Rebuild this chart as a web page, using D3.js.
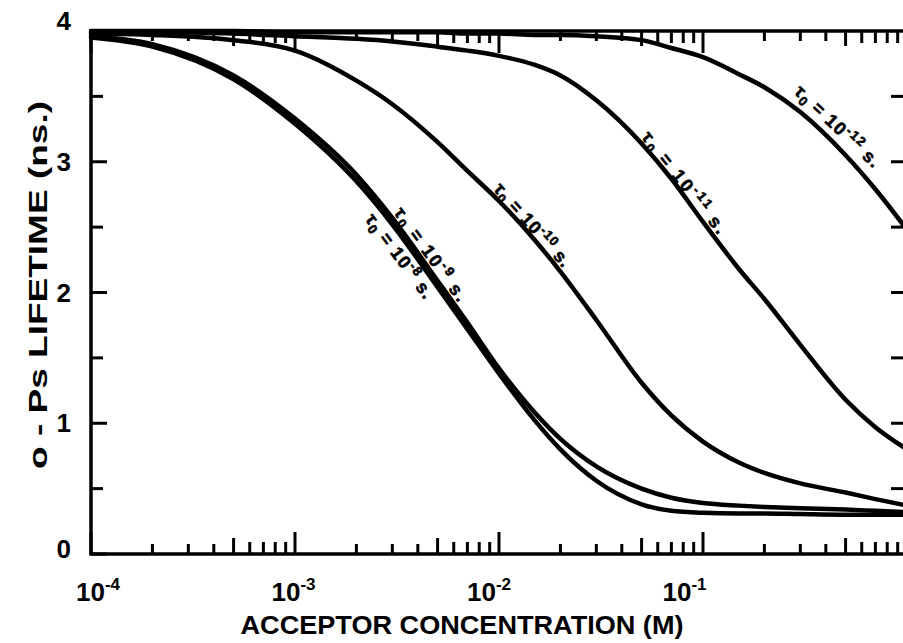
<!DOCTYPE html>
<html>
<head>
<meta charset="utf-8">
<script src="https://cdn.jsdelivr.net/npm/d3@7"></script>
<style>
    body { margin: 0; background: #fff; }
    text { font-family: "Liberation Sans", Arial, sans-serif; font-weight: bold; fill: #000; }
</style>
</head>
<body>
<div id="chart"></div>
<script>
const concentrations = [1e-4, 2e-4, 5e-4, 1e-3, 2e-3, 3e-3, 5e-3, 7e-3, 1e-2, 1.5e-2, 2e-2,
    3e-2, 5e-2, 7e-2, 0.1, 0.15, 0.2, 0.3, 0.5, 0.7, 1.0];

// o-Ps lifetime (ns) for each tau0
const tau8  = [3.95, 3.88, 3.63, 3.29, 2.85, 2.52, 2.04, 1.72, 1.38, 1.02, 0.80,
    0.56, 0.38, 0.33, 0.315, 0.31, 0.31, 0.305, 0.30, 0.30, 0.30];
const tau9  = [3.96, 3.90, 3.66, 3.33, 2.90, 2.57, 2.09, 1.77, 1.42, 1.08, 0.88,
    0.67, 0.50, 0.43, 0.39, 0.37, 0.36, 0.35, 0.34, 0.33, 0.32];
const tau10 = [3.98, 3.97, 3.93, 3.85, 3.62, 3.44, 3.15, 2.93, 2.70, 2.40, 2.16,
    1.79, 1.31, 1.06, 0.86, 0.70, 0.62, 0.54, 0.47, 0.42, 0.37];
const tau11 = [3.99, 3.99, 3.98, 3.96, 3.94, 3.92, 3.88, 3.85, 3.81, 3.74, 3.66,
    3.47, 3.14, 2.87, 2.54, 2.18, 1.95, 1.60, 1.18, 0.97, 0.80];
const tau12 = [4.00, 4.00, 4.00, 3.99, 3.99, 3.99, 3.99, 3.98, 3.98, 3.97, 3.97,
    3.96, 3.93, 3.87, 3.80, 3.67, 3.57, 3.38, 3.05, 2.79, 2.48];

const seriesExponents = ["-8", "-9", "-10", "-11", "-12"];
// stretch of each curve that carries its label (M)
const labelFrom = [2.58e-3, 2.92e-3, 9.0e-3, 0.0478, 0.252];
const labelTo   = [5.08e-3, 6.08e-3, 0.0199, 0.1146, 0.622];

const yTickLabels = [0, 1, 2, 3, 4];
const xTickExponents = [-4, -3, -2, -1];

const allTau = [tau8, tau9, tau10, tau11, tau12];

let width = 903, height = 643;

// distance of each label from its curve (+ is below the curve)
let labelOffset = [18, -4, -4, -4, -12];

let svg = d3.select("#chart").append("svg")
    .attr("width", width)
    .attr("height", height);

let x = d3.scaleLog().domain([1e-4, 1]).range([91, 907]);
let y = d3.scaleLinear().domain([0, 4]).range([554, 31]);

// frame (no right edge, the scan is cut there)
svg.append("path")
    .attr("d", `M903,${y(4)} H${x(1e-4)} V${y(0)} H903`)
    .attr("fill", "none")
    .attr("stroke", "#000")
    .attr("stroke-width", 3.5);

// x ticks: bottom point up, top point down
let xTicks = x.ticks();
function xTickLen(d, top) {
    let m = Math.round(d / Math.pow(10, Math.floor(Math.log10(d) + 1e-9)));
    if (m === 1) return 22;
    if (m === 5) return top ? 15 : 16;
    return m < 5 ? 10 : 12;
}
svg.append("g").selectAll("line")
    .data(xTicks)
    .enter().append("line")
    .attr("x1", d => x(d)).attr("x2", d => x(d))
    .attr("y1", y(0)).attr("y2", d => y(0) - xTickLen(d, false))
    .attr("stroke", "#000").attr("stroke-width", 3);
svg.append("g").selectAll("line")
    .data(xTicks)
    .enter().append("line")
    .attr("x1", d => x(d)).attr("x2", d => x(d))
    .attr("y1", y(4)).attr("y2", d => y(4) + xTickLen(d, true))
    .attr("stroke", "#000").attr("stroke-width", 3);

// y ticks, left inward and right inward
let yTicks = y.ticks(8);
svg.append("g").selectAll("line")
    .data(yTicks)
    .enter().append("line")
    .attr("x1", x(1e-4)).attr("x2", d => x(1e-4) + (d % 1 === 0 ? 16 : 12))
    .attr("y1", d => y(d)).attr("y2", d => y(d))
    .attr("stroke", "#000").attr("stroke-width", 3);
svg.append("g").selectAll("line")
    .data(yTicks.filter(d => d > 0 && d < 4))
    .enter().append("line")
    .attr("x1", 891).attr("x2", 903)
    .attr("y1", d => y(d)).attr("y2", d => y(d))
    .attr("stroke", "#000").attr("stroke-width", 3);

// tick labels (the end ones sit a little high in the original)
svg.append("g").selectAll("text")
    .data(yTickLabels)
    .enter().append("text")
    .attr("x", 71)
    .attr("y", d => y(d) + 9 - (d === 4 ? 10 : d === 0 ? 5 : 0))
    .attr("text-anchor", "end")
    .style("font-size", "26px")
    .text(d => d);

let xLabels = svg.append("g").selectAll("text")
    .data(xTickExponents)
    .enter().append("text")
    .attr("x", d => x(Math.pow(10, d)) + 7 - 8.5 * (d + 4))
    .attr("y", 601)
    .attr("text-anchor", "middle")
    .style("font-size", "26px");
xLabels.append("tspan").text("10");
xLabels.append("tspan")
    .attr("dy", -11)
    .style("font-size", "17px")
    .text(d => d);

// axis titles
svg.append("text")
    .attr("transform", "translate(47, 285) rotate(-90)")
    .attr("text-anchor", "middle")
    .attr("textLength", 368)
    .attr("lengthAdjust", "spacingAndGlyphs")
    .style("font-size", "25px")
    .text("o - Ps LIFETIME (ns.)");

svg.append("text")
    .attr("x", 462)
    .attr("y", 634)
    .attr("text-anchor", "middle")
    .attr("textLength", 443)
    .attr("lengthAdjust", "spacingAndGlyphs")
    .style("font-size", "26px")
    .text("ACCEPTOR  CONCENTRATION (M)");

// curves
let line = d3.line()
    .x(d => x(d[0]))
    .y(d => y(d[1]))
    .curve(d3.curveMonotoneX);

svg.append("g").selectAll("path")
    .data(allTau)
    .enter().append("path")
    .attr("d", t => line(concentrations.map((c, i) => [c, t[i]])))
    .attr("fill", "none")
    .attr("stroke", "#000")
    .attr("stroke-width", 4.5)
    .attr("stroke-linecap", "round");

// curve labels, laid along the chord of each curve
allTau.forEach((t, i) => {
    let along = d3.scaleLinear().domain(concentrations.map(Math.log10)).range(t);
    let p0 = [x(labelFrom[i]), y(along(Math.log10(labelFrom[i])))];
    let p1 = [x(labelTo[i]), y(along(Math.log10(labelTo[i])))];
    let angle = Math.atan2(p1[1] - p0[1], p1[0] - p0[0]) * 180 / Math.PI;
    let len = Math.hypot(p1[0] - p0[0], p1[1] - p0[1]);

    let label = svg.append("text")
        .attr("transform", `translate(${p0[0]}, ${p0[1]}) rotate(${angle})`)
        .attr("y", labelOffset[i])
        .attr("textLength", len)
        .attr("lengthAdjust", "spacing")
        .style("font-size", "18px")
        .style("stroke", "#000")
        .style("stroke-width", 0.6);
    label.append("tspan").text("τ");
    label.append("tspan").attr("dy", 4).style("font-size", "13px").text("0");
    label.append("tspan").attr("dy", -4).text(" = 10");
    label.append("tspan").attr("dy", -7).style("font-size", "13px").text(seriesExponents[i]);
    label.append("tspan").attr("dy", 7).text(" s.");
});
</script>
</body>
</html>
